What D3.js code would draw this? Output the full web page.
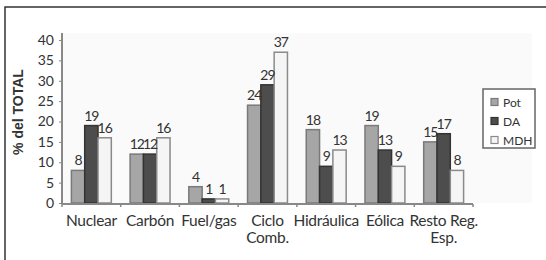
<!DOCTYPE html>
<html lang="es">
<head>
<meta charset="UTF-8">
<script src="https://d3js.org/d3.v7.min.js"></script>
<style>
  body { margin: 0; background: #fff; }
  text { font-family: Lato, "Open Sans", sans-serif; fill: #333; }
</style>
</head>
<body>
<script>
// data
const categories = ["Nuclear", "Carbón", "Fuel/gas", "Ciclo\nComb.", "Hidráulica", "Eólica", "Resto Reg.\nEsp."];
const series = ["Pot", "DA", "MDH"];
const pot = [8, 12, 4, 24, 18, 19, 15];
const da  = [19, 12, 1, 29, 9, 13, 17];
const mdh = [16, 16, 1, 37, 13, 9, 8];
const yTicks = [0, 5, 10, 15, 20, 25, 30, 35, 40];

const values = { Pot: pot, DA: da, MDH: mdh };
const fills = { Pot: "#a6a6a6", DA: "#4d4d4d", MDH: "#f5f5f5" };
const strokes = { Pot: "#7a7a7a", DA: "#333", MDH: "#8a8a8a" };

const w = 546, h = 260;
const padL = 62, padR = 473, padT = 40, padB = 203;

const svg = d3.select("body").append("svg").attr("width", w).attr("height", h);

// outer frame
svg.append("rect")
  .attr("x", 5).attr("y", 7).attr("width", 600).attr("height", 300)
  .attr("fill", "none").attr("stroke", "#333").attr("stroke-width", 1.5);

// faint plot panel
svg.append("rect")
  .attr("x", padL).attr("y", 33).attr("width", 470).attr("height", padB - 33)
  .attr("fill", "#fafafa");

const x0 = d3.scaleBand().domain(categories).range([padL, padR])
  .paddingInner(0.32).paddingOuter(0.16);
const x1 = d3.scaleBand().domain(series).range([0, x0.bandwidth()]);
const y = d3.scaleLinear().domain([0, 40]).range([padB, padT]);

// bars
const groups = svg.selectAll("g.grp").data(categories).join("g")
  .attr("class", "grp")
  .attr("transform", d => `translate(${x0(d)},0)`);

groups.selectAll("rect")
  .data((c, i) => series.map(s => ({ s, v: values[s][i] })))
  .join("rect")
  .attr("x", d => x1(d.s))
  .attr("y", d => y(d.v))
  .attr("width", x1.bandwidth())
  .attr("height", d => y(0) - y(d.v))
  .attr("fill", d => fills[d.s])
  .attr("stroke", d => strokes[d.s])
  .attr("stroke-width", 1.5);

groups.selectAll("text.val")
  .data((c, i) => series.map(s => ({ s, v: values[s][i] })))
  .join("text")
  .attr("class", "val")
  .attr("x", d => x1(d.s) + x1.bandwidth() / 2)
  .attr("y", d => y(d.v) - 5)
  .attr("text-anchor", "middle")
  .attr("font-size", 14)
  .attr("letter-spacing", -1)
  .text(d => d.v);

// y axis
const yAxis = svg.append("g")
  .attr("transform", `translate(${padL},0)`)
  .call(d3.axisLeft(y).tickValues(yTicks).tickSize(3).tickPadding(5));
yAxis.select(".domain").remove();
yAxis.append("line").attr("x1", 0).attr("x2", 0).attr("y1", 33).attr("y2", padB + 1)
  .attr("stroke", "#888").attr("stroke-width", 2);
yAxis.selectAll(".tick line").attr("stroke", "#888");
yAxis.selectAll(".tick text").attr("font-size", 14).attr("fill", "#333")
  .style("font-family", 'Lato, "Open Sans", sans-serif');

// x axis
const step = x0.step();
const xAxis = svg.append("g").attr("transform", `translate(0,${padB + 1})`);
xAxis.append("line").attr("x1", padL).attr("x2", padR)
  .attr("stroke", "#888").attr("stroke-width", 2);
xAxis.selectAll("line.tk").data(d3.range(categories.length + 1)).join("line")
  .attr("class", "tk")
  .attr("x1", i => padL + i * step).attr("x2", i => padL + i * step)
  .attr("y1", 0).attr("y2", 3)
  .attr("stroke", "#888").attr("stroke-width", 1.5);

const labels = xAxis.selectAll("text.cat").data(categories).join("text")
  .attr("class", "cat")
  .attr("text-anchor", "middle")
  .attr("font-size", 15.5)
  .attr("letter-spacing", -0.3)
  .attr("transform", d => `translate(${x0(d) + x0.bandwidth() / 2},22)`);
labels.selectAll("tspan").data(d => d.split("\n")).join("tspan")
  .attr("x", 0)
  .attr("dy", (d, i) => i === 0 ? 0 : 17)
  .text(d => d);

// y title
svg.append("text")
  .attr("transform", "translate(23,112) rotate(-90)")
  .attr("text-anchor", "middle")
  .attr("font-size", 14)
  .attr("font-weight", "bold")
  .style("font-family", "Liberation Sans, Arial, sans-serif")
  .text("% del TOTAL");

// legend
const lg = svg.append("g").attr("transform", "translate(483,89)");
lg.append("rect").attr("width", 52).attr("height", 59)
  .attr("fill", "#fff").attr("stroke", "#666").attr("stroke-width", 1.5);
const items = lg.selectAll("g").data(series).join("g")
  .attr("transform", (d, i) => `translate(8,${13 + i * 19})`);
items.append("rect").attr("x", 0).attr("y", -3.5).attr("width", 7).attr("height", 7)
  .attr("fill", d => fills[d]).attr("stroke", d => strokes[d]).attr("stroke-width", 1.2);
items.append("text").attr("x", 12).attr("y", 4.5).attr("font-size", 12).text(d => d);
</script>
</body>
</html>
